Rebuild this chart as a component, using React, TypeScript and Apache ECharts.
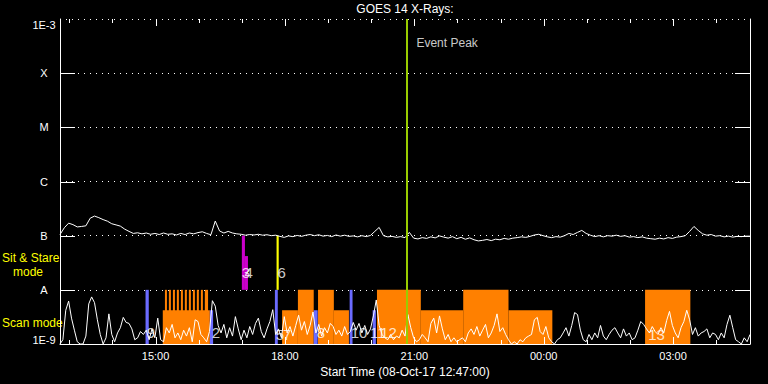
import React, { useEffect, useRef } from "react";
import * as echarts from "echarts";

// ---------- data ----------
const START_CLOCK = "12:47";
const SPAN_MIN = 960; // 16 hours shown
const X_TICK_LABELS = ["15:00", "18:00", "21:00", "00:00", "03:00"];
const X_HOUR_TICKS = ["13:00", "14:00", "16:00", "17:00", "19:00", "20:00", "22:00", "23:00", "01:00", "02:00", "04:00"];
const Y_LABELS = ["1E-9", "A", "B", "C", "M", "X", "1E-3"];
const Y_TICKS = [1e-8, 1e-7, 1e-6, 1e-5, 1e-4];
const TITLE = "GOES 14 X-Rays:";
const X_NAME = "Start Time (08-Oct-17 12:47:00)";

// GOES long channel (1-8 A), units of 1e-7 W/m2, 6-minute cadence from start
const LONG_STEP_MIN = 6;
const longChannel = [
  1.05, 1.4, 1.7, 1.6, 1.45, 1.48, 1.52, 2.1, 2.3, 2.15,
  1.98, 1.85, 1.66, 1.58, 1.5, 1.32, 1.2, 1.1, 1.13, 1.08,
  1.12, 1.06, 1.1, 1.05, 1.12, 1.06, 1.08, 1.03, 1.1, 1.05,
  1.12, 1.08, 1.14, 1.18, 1.1, 1.04, 1.86, 1.22, 1.12, 1.2,
  1.12, 1.08, 1.06, 1.02, 1.05, 1.03, 1.06, 1.02, 1.04, 1.0,
  1.02, 0.97, 0.93, 0.99, 0.96, 1.01, 0.97, 1.02, 1.05, 1.0,
  1.04, 0.98, 1.01, 0.96, 1.03, 0.98, 1.02, 0.97, 0.99, 0.95,
  1.0, 0.96, 1.01, 1.2, 1.42, 1.0, 0.95, 0.97, 0.93, 0.96,
  0.92, 1.15, 0.9, 0.87, 0.92, 0.89, 0.95, 0.91, 0.99, 0.94,
  0.9, 0.96, 0.88, 0.93, 0.86, 0.91, 0.84, 0.8, 0.82, 0.85,
  0.81, 0.86, 0.84, 0.89, 0.86, 0.9, 0.92, 0.95, 0.93, 0.97,
  1.03, 1.06, 1.0, 0.95, 0.92, 0.96, 0.94, 1.0, 1.1, 1.05,
  1.15, 1.25, 1.1, 1.02, 0.96, 1.0, 0.95, 1.0, 0.98, 1.02,
  0.97, 1.0, 0.94, 0.96, 0.92, 0.95, 0.9, 0.88, 0.86, 0.9,
  0.87, 0.92, 0.89, 0.94, 0.96, 1.0, 1.2, 1.48, 1.25, 1.08,
  1.02, 1.05, 0.98, 1.0, 0.95, 0.98, 0.94, 0.97, 0.96, 0.98,
  0.98,
];

// GOES short channel (0.5-4 A), units of 1e-9 W/m2, 4-minute cadence from start
const SHORT_STEP_MIN = 4;
const shortChannel = [
  1.0, 1.2, 4.2, 6.2, 3.0, 1.8, 1.1, 1.0, 1.0, 1.4,
  5.5, 7.4, 5.8, 2.8, 1.5, 1.0, 1.3, 3.6, 1.5, 1.1,
  1.6, 2.0, 3.1, 2.5, 2.4, 1.9, 1.2, 1.3, 1.7, 1.5,
  1.8, 1.2, 1.9, 1.3, 3.0, 1.2, 1.1, 2.0, 1.6, 2.3,
  1.3, 1.6, 1.2, 1.8, 1.4, 2.0, 1.1, 2.8, 2.6, 1.5,
  1.3, 1.1, 1.7, 6.3, 5.0, 2.2, 1.6, 2.3, 1.3, 2.0,
  1.4, 3.2, 1.9, 1.2, 1.8, 1.3, 2.1, 1.5, 2.4, 3.0,
  1.7, 1.3, 1.9, 2.6, 4.3, 1.5, 1.9, 1.3, 3.2, 1.6,
  2.1, 1.4, 2.2, 3.4, 1.8, 2.6, 1.5, 2.2, 3.9, 1.6,
  2.3, 1.4, 2.0, 1.6, 2.4, 2.1, 1.5, 1.8, 1.4, 2.1,
  1.5, 1.7, 2.5, 1.8, 2.4, 1.6, 2.2, 1.5, 1.9, 3.3,
  6.5, 2.2, 1.5, 1.3, 1.2, 1.5, 1.2, 1.4, 1.3, 1.8,
  1.4, 3.5, 2.0, 1.3, 1.1, 1.2, 1.5, 1.3, 1.1, 2.4,
  3.0, 1.6, 3.3, 1.9, 1.2, 1.5, 1.1, 1.3, 1.1, 1.2,
  1.3, 1.1, 1.6, 1.9, 1.5, 2.1, 1.4, 1.8, 2.3, 1.3,
  1.6, 2.2, 3.6, 1.7, 2.0, 1.5, 1.2, 1.0, 1.1, 1.0,
  1.2, 1.1, 1.3, 1.4, 1.5, 2.8, 3.1, 1.7, 1.5, 2.1,
  1.3, 1.1, 1.0, 1.2, 1.3, 1.6, 2.0, 1.4, 2.2, 3.8,
  3.5, 1.8, 1.2, 1.1, 1.5, 1.2, 1.6, 1.3, 2.2, 1.4,
  1.2, 1.5, 1.8, 2.0, 1.6, 1.3, 1.9, 1.4, 1.6, 1.2,
  1.3, 1.8, 2.6, 2.3, 1.9, 1.6, 2.1, 1.7, 1.5, 2.0,
  1.6, 2.7, 4.0, 2.2, 1.6, 1.3, 2.0, 2.6, 4.2, 2.8,
  1.5, 2.0, 1.4, 1.6, 1.7, 1.9, 1.3, 1.6, 1.5, 1.2,
  1.6, 1.3, 2.3, 3.4, 2.0, 1.2, 1.1, 1.0, 1.3, 1.1,
  1.5,
];

// levels (W/m2)
const FLOOR = 1e-9;
const CEIL = 1e-3;
const LEVEL_A = 1e-8;
const LEVEL_LOW = 4.2e-9;
const LEVEL_B = 1e-7;

// scan-mode coverage (orange): [start, end, top level]
const scanBlocks: [string, string, number][] = [
  ["15:10", "16:15.5", LEVEL_LOW],
  ["15:13", "15:15.8", LEVEL_A],
  ["15:18.5", "15:21.3", LEVEL_A],
  ["15:24.1", "15:26.9", LEVEL_A],
  ["15:29.6", "15:32.4", LEVEL_A],
  ["15:35.2", "15:38", LEVEL_A],
  ["15:40.7", "15:43.5", LEVEL_A],
  ["15:46.3", "15:49.1", LEVEL_A],
  ["15:51.9", "15:54.7", LEVEL_A],
  ["15:57.4", "16:00.2", LEVEL_A],
  ["16:03", "16:05.8", LEVEL_A],
  ["16:08.5", "16:13", LEVEL_A],
  ["17:56", "18:18", LEVEL_LOW],
  ["18:18", "18:40", LEVEL_A],
  ["18:46", "19:08", LEVEL_A],
  ["19:08", "19:29", LEVEL_LOW],
  ["20:08", "21:09", LEVEL_A],
  ["21:09", "22:08", LEVEL_LOW],
  ["22:08", "23:11", LEVEL_A],
  ["23:11", "00:12", LEVEL_LOW],
  ["02:21", "03:24", LEVEL_A],
];

// scan markers (blue)
const scanMarks: [string, string, number][] = [
  ["14:46", "14:50.5", LEVEL_A],
  ["16:15.5", "16:20", LEVEL_LOW],
  ["17:46", "17:50", LEVEL_A],
  ["18:40", "18:45.5", LEVEL_LOW],
  ["19:30", "19:34", LEVEL_A],
  ["20:02", "20:06.5", LEVEL_LOW],
];

// sit & stare (magenta): [start, end, bottom, top]
const sitStare: [string, string, number, number][] = [
  ["17:00", "17:04.3", LEVEL_A, LEVEL_B],
  ["17:04.3", "17:08.5", LEVEL_A, 4.2e-8],
];
// sit & stare marker (yellow)
const sitStareMark: [string, string, number, number][] = [["17:48.3", "17:51.3", LEVEL_A, LEVEL_B]];

const EVENT_PEAK = "20:49";
const EVENT_LABEL_LEVEL = 3.6e-4;

// scan numbers: [time, level, text]
const scanNumbers: [string, number, string][] = [
  ["14:53.5", 1.6e-9, "9"],
  ["16:24", 1.6e-9, "2"],
  ["17:05.5", 2.1e-8, "3"],
  ["17:09.5", 2.1e-8, "4"],
  ["17:55.5", 2.1e-8, "6"],
  ["17:53", 1.5e-9, "5"],
  ["18:03", 1.5e-9, "7"],
  ["18:50", 1.6e-9, "8"],
  ["19:43", 1.6e-9, "10"],
  ["20:09", 1.6e-9, "11"],
  ["20:24", 1.6e-9, "12"],
  ["02:37", 1.5e-9, "13"],
];

// ---------- helpers ----------
function clockMin(s: string): number {
  const [h, m] = s.split(":");
  return Number(h) * 60 + Number(m);
}
const START = clockMin(START_CLOCK);
function toElapsed(s: string): number {
  let e = clockMin(s) - START;
  if (e < 0) e += 1440;
  return e;
}

const FONT = "Liberation Sans";

export default function App() {
  const ref = useRef<HTMLDivElement>(null);
  useEffect(() => {
    if (!ref.current) return;
    const chart = echarts.init(ref.current, undefined, { renderer: "svg" });

    const majorE = X_TICK_LABELS.map(toElapsed);
    const minorE = X_HOUR_TICKS.map(toElapsed);

    const longData = longChannel.map((v, j) => [j * LONG_STEP_MIN, v * 1e-7]);
    const shortData = shortChannel.map((v, i) => [i * SHORT_STEP_MIN, v * 1e-9]);

    const rectItem = (params: any, api: any) => {
      const p0 = api.coord([api.value(0), api.value(3)]);
      const p1 = api.coord([api.value(1), api.value(2)]);
      return {
        type: "rect",
        shape: { x: p0[0], y: p0[1], width: p1[0] - p0[0], height: p1[1] - p0[1] },
        style: { fill: api.visual("color") },
      };
    };

    const tickStyle = { stroke: "#fff", lineWidth: 1 };
    // inward y ticks on left and right frame edges
    const yTickItem = (params: any, api: any) => {
      const v = api.value(1);
      const l = api.coord([0, v]);
      const r = api.coord([SPAN_MIN, v]);
      const y = Math.round(l[1]) + 0.5;
      return {
        type: "group",
        children: [
          { type: "line", shape: { x1: l[0], y1: y, x2: l[0] + 15, y2: y }, style: tickStyle },
          { type: "line", shape: { x1: r[0] - 15, y1: y, x2: r[0], y2: y }, style: tickStyle },
        ],
      };
    };
    // inward x ticks on bottom and top frame edges
    const xTickItem = (params: any, api: any) => {
      const e = api.value(0);
      const len = api.value(2);
      const b = api.coord([e, FLOOR]);
      const t = api.coord([e, CEIL]);
      const x = Math.round(b[0]) + 0.5;
      return {
        type: "group",
        children: [
          { type: "line", shape: { x1: x, y1: b[1], x2: x, y2: b[1] - len }, style: tickStyle },
          { type: "line", shape: { x1: x, y1: t[1], x2: x, y2: t[1] + len }, style: tickStyle },
        ],
      };
    };

    const yLabel = (v: number) => {
      const k = Math.round(Math.log10(v)) + 9;
      const t = Y_LABELS[k] ?? "";
      if (k === 0) return `{lo|${t}}`;
      if (k === 6) return `{hi|${t}}`;
      return t;
    };

    const option: any = {
      animation: false,
      backgroundColor: "#000",
      title: {
        text: TITLE,
        left: 405,
        top: 3,
        padding: 0,
        textAlign: "center",
        textStyle: { color: "#fff", fontSize: 12, fontWeight: "normal", fontFamily: FONT },
      },
      grid: { left: 60, right: 18, top: 19, bottom: 40 },
      xAxis: {
        type: "value",
        min: 0,
        max: SPAN_MIN,
        position: "bottom",
        splitLine: { show: false },
        axisLine: { show: true, lineStyle: { color: "#fff", width: 1 } },
        axisTick: { show: false },
        axisLabel: {
          show: true,
          customValues: majorE,
          color: "#fff",
          fontSize: 11,
          fontFamily: FONT,
          margin: 6,
          formatter: (v: number) => {
            const idx = majorE.findIndex((e) => Math.abs(e - v) < 0.5);
            return idx >= 0 ? X_TICK_LABELS[idx] : "";
          },
        },
        name: X_NAME,
        nameLocation: "middle",
        nameGap: 16,
        nameTextStyle: { color: "#fff", fontSize: 12, fontFamily: FONT },
      },
      yAxis: [
        {
          type: "log",
          logBase: 10,
          min: FLOOR,
          max: CEIL,
          position: "left",
          axisLine: { show: true, lineStyle: { color: "#fff", width: 1 } },
          axisTick: { show: false },
          axisLabel: {
            color: "#fff",
            fontSize: 11,
            fontFamily: FONT,
            align: "center",
            margin: 16,
            formatter: yLabel,
            rich: {
              lo: { color: "#fff", fontSize: 11, fontFamily: FONT, padding: [0, 0, 8, 0] },
              hi: { color: "#fff", fontSize: 11, fontFamily: FONT, padding: [12, 0, 0, 0] },
            },
          },
          splitLine: { show: true, lineStyle: { color: "#fff", width: 1, type: [1, 5] } },
        },
        {
          type: "log",
          logBase: 10,
          min: FLOOR,
          max: CEIL,
          position: "right",
          axisLine: { show: true, lineStyle: { color: "#fff", width: 1 } },
          axisTick: { show: false },
          axisLabel: { show: false },
          splitLine: { show: false },
        },
      ],
      graphic: [
        { type: "text", left: 2, top: 252, style: { text: "Sit & Stare", fill: "#ffff00", fontSize: 12, fontFamily: FONT } },
        { type: "text", left: 13, top: 266, style: { text: "mode", fill: "#ffff00", fontSize: 12, fontFamily: FONT } },
        { type: "text", left: 2, top: 317, style: { text: "Scan mode", fill: "#ffff00", fontSize: 12, fontFamily: FONT } },
      ],
      series: [
        {
          type: "custom",
          name: "scan",
          renderItem: rectItem,
          itemStyle: { color: "#ff8000" },
          encode: { x: [0, 1], y: [2, 3] },
          data: scanBlocks.map(([s, e, top]) => [toElapsed(s), toElapsed(e), FLOOR, top]),
          z: 1,
          silent: true,
        },
        {
          type: "custom",
          name: "marks",
          renderItem: rectItem,
          itemStyle: { color: "#6b6bff" },
          encode: { x: [0, 1], y: [2, 3] },
          data: scanMarks.map(([s, e, top]) => [toElapsed(s), toElapsed(e), FLOOR, top]),
          z: 2,
          silent: true,
        },
        {
          type: "custom",
          name: "sitstare",
          renderItem: rectItem,
          itemStyle: { color: "#cc00cc" },
          encode: { x: [0, 1], y: [2, 3] },
          data: sitStare.map(([s, e, b, t]) => [toElapsed(s), toElapsed(e), b, t]),
          z: 2,
          silent: true,
        },
        {
          type: "custom",
          name: "sitstaremark",
          renderItem: rectItem,
          itemStyle: { color: "#ffff00" },
          encode: { x: [0, 1], y: [2, 3] },
          data: sitStareMark.map(([s, e, b, t]) => [toElapsed(s), toElapsed(e), b, t]),
          z: 2,
          silent: true,
        },
        {
          type: "custom",
          name: "yTicks",
          renderItem: yTickItem,
          clip: false,
          encode: { x: 0, y: 1 },
          data: Y_TICKS.map((v) => [0, v]),
          z: 5,
          silent: true,
        },
        {
          type: "custom",
          name: "xTicks",
          renderItem: xTickItem,
          clip: false,
          encode: { x: 0, y: 1 },
          data: [
            ...majorE.map((e) => [e, FLOOR, 7]),
            ...minorE.map((e) => [e, FLOOR, 4]),
          ],
          z: 5,
          silent: true,
        },
        {
          type: "line",
          name: "short",
          data: shortData,
          showSymbol: false,
          lineStyle: { color: "#fff", width: 1 },
          itemStyle: { color: "#fff" },
          z: 3,
          silent: true,
        },
        {
          type: "line",
          name: "long",
          data: longData,
          showSymbol: false,
          lineStyle: { color: "#fff", width: 1 },
          itemStyle: { color: "#fff" },
          z: 3,
          silent: true,
          markLine: {
            silent: true,
            symbol: "none",
            label: { show: false },
            lineStyle: { color: "#99cc00", width: 2, type: "solid" },
            data: [{ xAxis: toElapsed(EVENT_PEAK) }],
          },
        },
        {
          type: "scatter",
          name: "eventLabel",
          symbolSize: 0,
          data: [[toElapsed(EVENT_PEAK), EVENT_LABEL_LEVEL]],
          label: {
            show: true,
            position: "right",
            distance: 10,
            formatter: "Event Peak",
            color: "#fff",
            fontSize: 12,
            fontFamily: FONT,
          },
          z: 4,
          silent: true,
        },
        {
          type: "scatter",
          name: "scanNumbers",
          symbolSize: 0,
          data: scanNumbers.map(([t, lvl, txt]) => ({ value: [toElapsed(t), lvl], name: txt })),
          label: {
            show: true,
            position: "inside",
            formatter: (p: any) => p.name,
            color: "#fff",
            fontSize: 15,
            fontFamily: FONT,
          },
          z: 4,
          silent: true,
        },
      ],
    };

    chart.setOption(option);
    return () => chart.dispose();
  }, []);

  return (
    <div
      ref={ref}
      style={{ position: "fixed", left: 0, top: 0, width: 768, height: 384, background: "#000" }}
    />
  );
}
